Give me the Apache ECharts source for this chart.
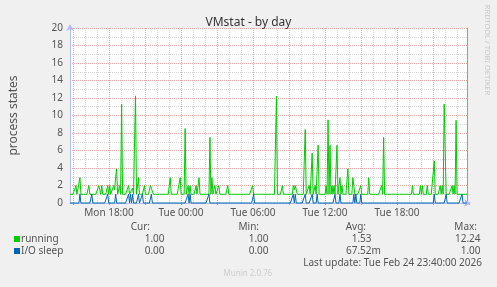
<!DOCTYPE html>
<html><head><meta charset="utf-8">
<script src="https://cdn.jsdelivr.net/npm/echarts@6/dist/echarts.min.js"></script>
<style>html,body{margin:0;padding:0;background:#f0f0f0;}#c{width:497px;height:287px;}</style>
</head><body><div id="c"></div>
<script>
// Sample times: minutes since Mon 00:00, one sample every 5 minutes from Mon 14:30
const START_MIN = 870;
const STEP_MIN = 5;

// running (one row = one hour, 12 samples)
const running = [
 1,1,1,1,1,1,2,1,1,1,2.9,1,
 1,1,1,1,1,1,1,2,1,1,1,1,
 1,1,1,1,1,2,2,1,2,1,1,1,
 1,1,2,1,2,1,1,1,2,1.5,3,3.9,
 1,1,2,1,11.3,1,1,1,1,1,1,2,
 1,1,1,1.7,1,1,12.24,1,1,2.9,1,1,
 1,1,1,2,1,1,1,1,1,2,2,2,
 1,1,1,1,1,1,1,1,1,1,1,1,
 1,1,1,1,1,2.9,1,1,1,1,1,1,
 1,1,1,2.9,1,1,1,1,8.5,1,1,2,
 1,2,1,1,1,1,1,2,1,1,2.9,1,
 1,1,1,1,1,1,1,1,1,7.5,1,2.9,
 1,1,2,1,1,1,2,1,1,1,1,1,
 1,1,1,2,1,1,1,1,1,1,1,1,
 1,1,1,1,1,1,1,1,1,1,1,1,
 1,1,1,1,2,1,1,1,1,1,1,1,
 1,1,1,1,1,1,1,1,1,1,1,1,
 1,1,1,1,12.2,1,1,1,1,1,2,1,
 1,1,1,1,1,1,1,1,1,2,1.5,2,
 2,1,1,1,1,1,1,1,1,8.4,1,1,
 1,2,1,1,5.7,1,1,2,1,1,6.6,1,
 1,1,1,1,1,1,2,1,9.5,1,6.6,1,
 2,1,2,1,1,6.6,1,1,2.9,1,2,1,
 1,1,1,1,3.9,1,1,1,1,2.9,2.9,1,
 1,1,1,1,1,2,1,1,1,1,1,1,
 1,2.9,1,1,1,1,1,1,1,1,1,1,
 1,1,2,1,7.5,1,1,1,1,1,1,1,
 1,1,1,1,1,1,1,1,1,1,1,1,
 1,1,1,1,1,1,1,1,1,2,1,1,
 1,1,1,1,1,2,1,2,1,1,1,1,
 2,1,1,1,1,1,1,4.8,1,1,1,1,
 1,2,1,2,1,11.3,11.2,1,1,1,1,1,
 1,2,1,2,1,9.45,1,1,1,1,1,1,
 1,1,1,1,1
];

// I/O sleep
const ioSleep = [
 0,0,0,0,0,0,0,0,0,0,1,0,
 0,0,0,0,0,0,0,0,0,0,1,0,
 0,0,0,0,0,0,0,0,0,0,0,0,
 0,0,1,0,0,0,0,0,0,0,1,0,
 0,0,0,0,0,0,0,0,0,0,0,1,
 0,1,0,1,0,0,0,0,0,1,0,0,
 0,1,0,0,0,0,0,0,0,0,1,0,
 0,0,0,0,0,0,0,0,0,0,0,0,
 0,0,0,0,0,0,0,0,0,0,0,0,
 0,0,0,0,0,0,0,0,0,0,0,1,
 0,1,0,0,0,0,0,0,0,0,0,0,
 0,0,0,0,0,0,0,0,1,0,0,0,
 0,0,0,0,0,0,0,0,0,0,0,0,
 0,0,0,0,0,0,0,0,0,0,0,0,
 0,0,0,0,0,0,0,0,0,0,0,0,
 0,0,0,0,0,1,0,0,0,0,0,0,
 0,0,0,0,0,0,0,0,0,0,0,0,
 0,0,0,0,0,0,0,0,0,0,0,0,
 0,0,0,0,0,0,0,0,0,1,0,1,
 0,0,0,0,0,0,0,0,0,1,0,0,
 0,0,0,0,1,0,0,0,0,1,0,0,
 0,0,0,0,0,0,0,0,0,0,0,0,
 0,0,0,1,0,0,0,0,1,0,0,0,
 0,0,0,0,0,0,0,0,0,0,1,0,
 1,0,0,0,0,1,0,0,0,0,0,0,
 0,0,0,0,0,0,0,0,0,0,0,0,
 0,0,0,0,0,0,0,0,0,0,0,0,
 0,0,0,0,0,0,0,0,0,0,0,0,
 0,0,0,0,0,0,0,0,0,0,0,0,
 0,0,0,0,0,0,0,0,0,0,0,0,
 0,0,0,0,0,0,0,1,0,0,0,0,
 0,0,0,0,0,0,0,1,0,0,0,0,
 0,0,0,0,0,0,0,0,0,0,0,1,
 0,0,0,0,0
];

const xTickLabels = ['Mon 18:00','Tue 00:00','Tue 06:00','Tue 12:00','Tue 18:00'];
const seriesNames = ['running','I/O sleep'];
const seriesColors = ['#00cc00','#0066b3'];
const statHeaders = ['Cur:','Min:','Avg:','Max:'];
const statsRunning = ['1.00','1.00','1.53','12.24'];
const statsIoSleep = ['0.00','0.00','67.52','1.00'];
const statsUnits = [['','','',''],['','','m','']];
const lastUpdate = 'Last update: Tue Feb 24 23:40:00 2026';

const FF = "'Noto Sans', sans-serif";
const TXT = '#555';
const MAJOR = '#e8a6a6';
const MINOR = '#d6d6d6';
const AXIS = '#b4bdf0';

const chart = echarts.init(document.getElementById('c'), null, {renderer:'canvas'});

const toPairs = arr => arr.map((v,i) => [START_MIN + STEP_MIN*i, v]);

const headerRight = [150, 259, 366, 477];
const valueRight = [164.5, 268.5, 371.5, 480.5];
const rowsY = [239.5, 251.5];
const graphics = [];
statHeaders.forEach((h,k) => graphics.push({type:'text', style:{text:h, x:headerRight[k], y:227, align:'right', verticalAlign:'middle', fill:TXT, font:'10px '+FF}}));
[statsRunning, statsIoSleep].forEach((row, r) => {
  graphics.push({type:'rect', shape:{x:14, y:rowsY[r]-3.5, width:6, height:6}, style:{fill:seriesColors[r]}});
  graphics.push({type:'text', style:{text:seriesNames[r], x:21, y:rowsY[r], align:'left', verticalAlign:'middle', fill:TXT, font:'10px '+FF}});
  row.forEach((v,k) => {
    graphics.push({type:'text', style:{text:v, x:valueRight[k], y:rowsY[r], align:'right', verticalAlign:'middle', fill:TXT, font:'10px '+FF}});
    if (statsUnits[r][k]) graphics.push({type:'text', style:{text:statsUnits[r][k], x:valueRight[k], y:rowsY[r], align:'left', verticalAlign:'middle', fill:TXT, font:'10px '+FF}});
  });
});
graphics.push({type:'text', style:{text:lastUpdate, x:482, y:263.5, align:'right', verticalAlign:'middle', fill:TXT, font:'10px '+FF}});
graphics.push({type:'text', style:{text:'Munin 2.0.76', x:248, y:274, align:'center', verticalAlign:'middle', fill:'#cccccc', font:'8px '+FF}});
graphics.push({type:'text', x:487, y:50, rotation:-Math.PI/2, style:{text:'RRDTOOL / TOBI OETIKER', x:0, y:0, align:'center', verticalAlign:'middle', fill:'#c8c8c8', font:'7.5px '+FF}});

const hidden = {axisLine:{show:false}, axisTick:{show:false}, axisLabel:{show:false}, splitLine:{show:false}};

chart.setOption({
  animation:false,
  backgroundColor:'#f0f0f0',
  title:{text:'VMstat - by day', left:'center', top:12, textStyle:{fontSize:12, fontWeight:'normal', color:'#333', fontFamily:FF}},
  grid:[
    {left:67, top:28, width:400, height:175, show:true, backgroundColor:'#ffffff', borderWidth:0},
    {left:61, top:28, width:408, height:175},
    {left:73, top:28, width:396, height:175},
    {left:109, top:28, width:360, height:175}
  ],
  xAxis:[
    {gridIndex:0, type:'value', min:870, max:2870,
     axisLine:{show:true, lineStyle:{color:AXIS}, symbol:['none','arrow'], symbolSize:[6,7], symbolOffset:[0,4]},
     axisTick:{show:false}, axisLabel:{show:false}, splitLine:{show:false}},
    Object.assign({}, hidden, {gridIndex:1, type:'value', min:840, max:2880, interval:60,
     splitLine:{show:true, showMinLine:false, showMaxLine:false, lineStyle:{color:MINOR, type:[1,1], width:1}}}),
    Object.assign({}, hidden, {gridIndex:2, type:'value', min:900, max:2880, interval:180,
     axisTick:{show:true, length:2, lineStyle:{color:'#e08a8a'}},
     splitLine:{show:true, showMaxLine:false, lineStyle:{color:MAJOR, type:[1,1], width:1}}}),
    Object.assign({}, hidden, {gridIndex:3, type:'value', min:1080, max:2880, interval:360,
     axisLabel:{show:true, showMaxLabel:false, margin:5, color:TXT, fontSize:10, fontFamily:FF,
       formatter: v => xTickLabels[Math.round((v-1080)/360)] || ''}})
  ],
  yAxis:[
    {gridIndex:0, type:'value', min:0, max:20, interval:2, position:'left',
     axisLine:{show:true, lineStyle:{color:AXIS}, symbol:['none','arrow'], symbolSize:[6,7], symbolOffset:[0,4]},
     axisTick:{show:false},
     axisLabel:{color:TXT, fontSize:10, margin:7, fontFamily:FF},
     splitLine:{show:true, showMinLine:false, lineStyle:{color:MAJOR, type:[1,1], width:1}},
     minorTick:{show:false, splitNumber:2},
     minorSplitLine:{show:true, lineStyle:{color:MINOR, type:[1,1], width:1}},
     name:'process states', nameLocation:'middle', nameGap:50,
     nameTextStyle:{color:TXT, fontSize:12, fontFamily:FF}},
    Object.assign({}, hidden, {gridIndex:0, type:'value', min:0, max:20, position:'right', axisLine:{show:true, lineStyle:{color:'#9a9a9a'}}}),
    {gridIndex:1, type:'value', min:0, max:20, show:false},
    {gridIndex:2, type:'value', min:0, max:20, show:false},
    {gridIndex:3, type:'value', min:0, max:20, show:false}
  ],
  series:[
    {name:seriesNames[0], type:'line', xAxisIndex:0, yAxisIndex:0, data:toPairs(running), symbol:'none',
     lineStyle:{width:1, color:seriesColors[0]}, itemStyle:{color:seriesColors[0]}, clip:false},
    {name:seriesNames[1], type:'line', xAxisIndex:0, yAxisIndex:0, data:toPairs(ioSleep), symbol:'none',
     lineStyle:{width:1, color:seriesColors[1]}, itemStyle:{color:seriesColors[1]}, clip:false}
  ],
  graphic:graphics
});
</script></body></html>
